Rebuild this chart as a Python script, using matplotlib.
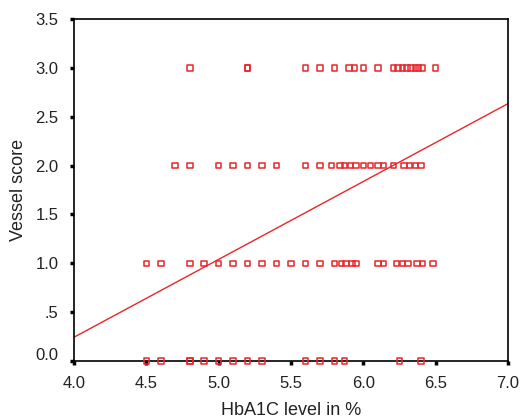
import matplotlib
matplotlib.use("Agg")
import matplotlib.pyplot as plt
import matplotlib.transforms as mtransforms
import numpy as np

plt.rcParams['font.family'] = ['Liberation Sans', 'DejaVu Sans']

# HbA1C values (%) for each vessel score
hba1c_score3 = [4.8, 5.2, 5.2, 5.6, 5.7, 5.8, 5.9, 5.94, 6.0, 6.1, 6.21, 6.24, 6.27,
                6.3, 6.33, 6.36, 6.38, 6.41, 6.5]
hba1c_score2 = [4.7, 4.8, 5.0, 5.1, 5.2, 5.3, 5.4, 5.6, 5.7, 5.78, 5.84, 5.87, 5.91,
                5.95, 6.0, 6.05, 6.1, 6.14, 6.21, 6.28, 6.32, 6.36, 6.4]
hba1c_score1 = [4.5, 4.6, 4.8, 4.9, 5.0, 5.1, 5.2, 5.3, 5.4, 5.5, 5.6, 5.7, 5.8,
                5.85, 5.88, 5.92, 5.95, 6.1, 6.14, 6.23, 6.27, 6.31, 6.37, 6.41, 6.48]
hba1c_score0 = [4.5, 4.6, 4.8, 4.8, 4.9, 5.0, 5.1, 5.2, 5.3, 5.6, 5.7, 5.8, 5.87,
                6.25, 6.4]
scores = [3.0, 2.0, 1.0, 0.0]

# Fitted regression line: score = intercept + slope * HbA1C
fit_intercept = -2.945
fit_slope = 0.797

x_ticks = [4.0, 4.5, 5.0, 5.5, 6.0, 6.5, 7.0]
x_tick_labels = ["4.0", "4.5", "5.0", "5.5", "6.0", "6.5", "7.0"]
y_ticks = [0.0, 0.5, 1.0, 1.5, 2.0, 2.5, 3.0, 3.5]
y_tick_labels = ["0.0", ".5", "1.0", "1.5", "2.0", "2.5", "3.0", "3.5"]

red = "#e8262a"

fig = plt.figure(figsize=(5.21, 4.20), dpi=100)
ax = fig.add_axes([74/521, 1 - 361/420, (508-74)/521, (361-19)/420])

for xs, s in zip([hba1c_score3, hba1c_score2, hba1c_score1, hba1c_score0], scores):
    ax.scatter(xs, [s]*len(xs), marker='s', s=16, facecolors='none',
               edgecolors=red, linewidths=1.1, clip_on=False, zorder=3)

lx = np.array([4.0, 7.0])
ax.plot(lx, fit_intercept + fit_slope * lx, color=red, linewidth=1.0, zorder=2)

ax.set_xlim(4.0, 7.0)
ax.set_ylim(0.0, 3.5)
ax.set_xticks(x_ticks)
ax.set_xticklabels(x_tick_labels)
ax.set_yticks(y_ticks)
ax.set_yticklabels(y_tick_labels)

for sp in ax.spines.values():
    sp.set_linewidth(1.2)
    sp.set_color('black')

ax.tick_params(axis='both', direction='out', length=3, width=2.5, color='black',
               labelsize=12, labelcolor='#222222', pad=8)

# nudge the 0.0 label upward as in original
lbl0 = ax.get_yticklabels()[0]
lbl0.set_transform(lbl0.get_transform() + mtransforms.ScaledTranslation(0, 7/100, fig.dpi_scale_trans))

ax.set_xlabel("HbA1C level in %", fontsize=13, color='#222222', labelpad=8)
ax.set_ylabel("Vessel score", fontsize=13, color='#222222', labelpad=6)

fig.savefig("out.png", dpi=100)
